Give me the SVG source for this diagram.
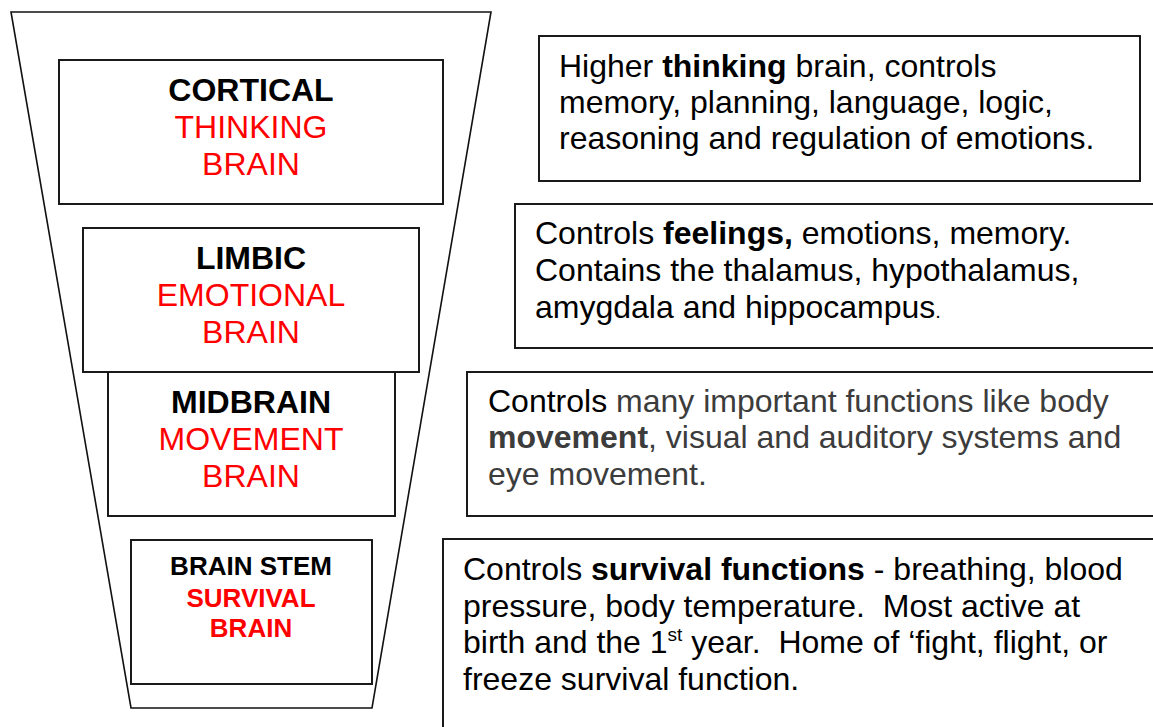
<svg xmlns="http://www.w3.org/2000/svg" width="1153" height="727" viewBox="0 0 1153 727">
  <style>
    .frame { fill: #ffffff; stroke: #1a1a1a; stroke-width: 2; }
    .funnel { fill: #ffffff; stroke: #111111; stroke-width: 1.6; }
    .lbl { font-family: "Liberation Sans", Arial, sans-serif; text-anchor: middle; font-size: 32px; }
    .title { font-weight: bold; fill: #000000; }
    .sub { fill: #ff0000; }
    .small { font-size: 26px; font-weight: bold; }
    .desc { font-family: "Liberation Sans", Arial, sans-serif; font-size: 32px; fill: #000000; }
    .b { font-weight: bold; }
    .grey { fill: #3c3c3c; }
  </style>

  <!-- funnel outline -->
  <g id="funnel">
    <polygon class="funnel" points="11,12 491,12 372,708 131,708"/>
  </g>

  <!-- brain layers -->
  <g id="cortical">
    <rect class="frame" x="59" y="60" width="384" height="144"/>
    <text class="lbl title" x="251" y="101">CORTICAL</text>
    <text class="lbl sub" x="251" y="138">THINKING</text>
    <text class="lbl sub" x="251" y="175">BRAIN</text>
  </g>

  <g id="limbic">
    <rect class="frame" x="83" y="228" width="336" height="144"/>
    <text class="lbl title" x="251" y="269">LIMBIC</text>
    <text class="lbl sub" x="251" y="306">EMOTIONAL</text>
    <text class="lbl sub" x="251" y="343">BRAIN</text>
  </g>

  <g id="midbrain">
    <rect class="frame" x="108" y="372" width="287" height="144"/>
    <text class="lbl title" x="251" y="413">MIDBRAIN</text>
    <text class="lbl sub" x="251" y="450">MOVEMENT</text>
    <text class="lbl sub" x="251" y="487">BRAIN</text>
  </g>

  <g id="brainstem">
    <rect class="frame" x="131" y="540" width="241" height="144"/>
    <text class="lbl small title" x="251" y="575">BRAIN STEM</text>
    <text class="lbl small sub" x="251" y="607">SURVIVAL</text>
    <text class="lbl small sub" x="251" y="637">BRAIN</text>
  </g>

  <!-- descriptions -->
  <g id="cortical-desc">
    <rect class="frame" x="539" y="36" width="601" height="145"/>
    <text class="desc" x="559" y="77">Higher <tspan class="b">thinking</tspan> brain, controls</text>
    <text class="desc" x="559" y="113">memory, planning, language, logic,</text>
    <text class="desc" x="559" y="149">reasoning and regulation of emotions.</text>
  </g>

  <g id="limbic-desc">
    <rect class="frame" x="515" y="204" width="650" height="144"/>
    <text class="desc" x="535" y="244">Controls <tspan class="b">feelings,</tspan> emotions, memory.</text>
    <text class="desc" x="535" y="281">Contains the thalamus, hypothalamus,</text>
    <text class="desc" x="535" y="318">amygdala and hippocampus<tspan font-size="20">.</tspan></text>
  </g>

  <g id="midbrain-desc">
    <rect class="frame" x="467" y="372" width="700" height="144"/>
    <text class="desc" x="488" y="412">Controls <tspan class="grey">many important functions like body</tspan></text>
    <text class="desc grey" x="488" y="448"><tspan class="b">movement</tspan>, visual and auditory systems and</text>
    <text class="desc grey" x="488" y="485">eye movement.</text>
  </g>

  <g id="brainstem-desc">
    <rect class="frame" x="443" y="539" width="720" height="200"/>
    <text class="desc" x="463" y="580">Controls <tspan class="b">survival functions</tspan> - breathing, blood</text>
    <text class="desc" x="463" y="617" xml:space="preserve">pressure, body temperature.  Most active at</text>
    <text class="desc" x="463" y="653" xml:space="preserve">birth and the 1<tspan font-size="19" dy="-12">st</tspan><tspan dy="12"> year.  Home of ‘fight, flight, or</tspan></text>
    <text class="desc" x="463" y="690">freeze survival function.</text>
  </g>
</svg>
